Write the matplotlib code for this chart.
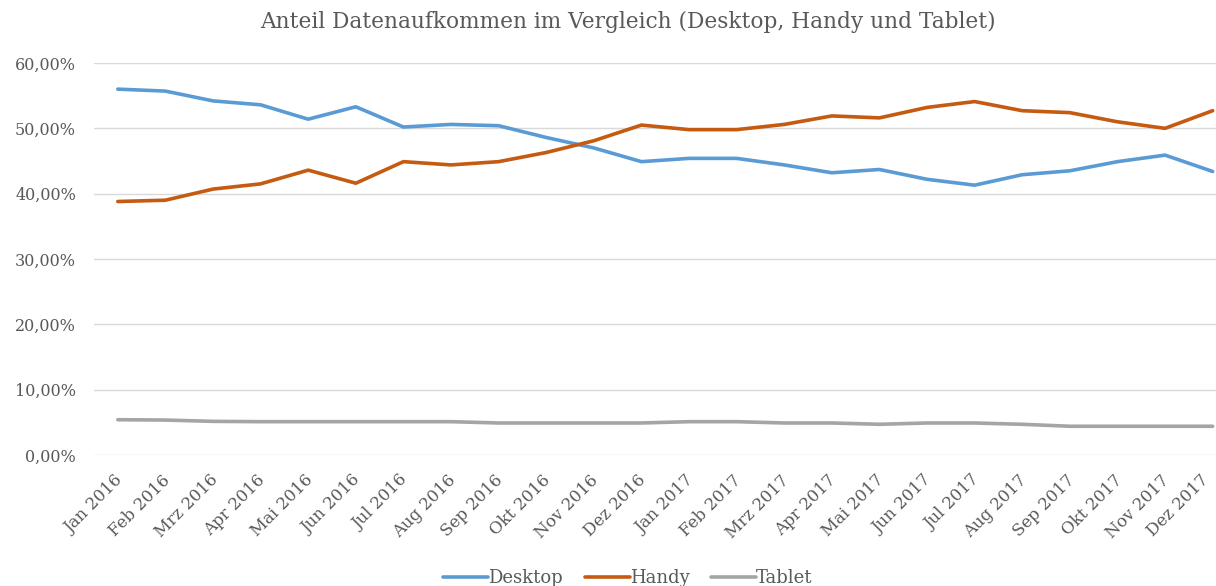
import matplotlib
matplotlib.use("Agg")
import matplotlib.pyplot as plt
import matplotlib.transforms as mtransforms
from matplotlib.ticker import FuncFormatter

plt.rcParams["font.family"] = ["DejaVu Serif"]

months = ["Jan 2016", "Feb 2016", "Mrz 2016", "Apr 2016", "Mai 2016", "Jun 2016",
          "Jul 2016", "Aug 2016", "Sep 2016", "Okt 2016", "Nov 2016", "Dez 2016",
          "Jan 2017", "Feb 2017", "Mrz 2017", "Apr 2017", "Mai 2017", "Jun 2017",
          "Jul 2017", "Aug 2017", "Sep 2017", "Okt 2017", "Nov 2017", "Dez 2017"]

desktop = [56.0, 55.7, 54.2, 53.6, 51.4, 53.3, 50.2, 50.6, 50.4, 48.6, 47.0, 44.9,
           45.4, 45.4, 44.4, 43.2, 43.7, 42.2, 41.3, 42.9, 43.5, 44.9, 45.9, 43.4]
handy = [38.8, 39.0, 40.7, 41.5, 43.6, 41.6, 44.9, 44.4, 44.9, 46.3, 48.1, 50.5,
         49.8, 49.8, 50.6, 51.9, 51.6, 53.2, 54.1, 52.7, 52.4, 51.0, 50.0, 52.7]
tablet = [5.4, 5.35, 5.15, 5.1, 5.1, 5.1, 5.1, 5.1, 4.9, 4.9, 4.9, 4.9,
          5.1, 5.1, 4.9, 4.9, 4.7, 4.9, 4.9, 4.7, 4.4, 4.4, 4.4, 4.4]

text_col = "#595959"

fig = plt.figure(figsize=(12.16, 5.86), dpi=100)
ax = fig.add_axes([94 / 1216, 1 - 455 / 586, (1216 - 94) / 1216, (455 - 63) / 586])

x = list(range(len(months)))
ax.plot(x, desktop, color="#5B9BD5", lw=2.6, label="Desktop", solid_capstyle="round")
ax.plot(x, handy, color="#C55A11", lw=2.6, label="Handy", solid_capstyle="round")
ax.plot(x, tablet, color="#A5A5A5", lw=2.6, label="Tablet", solid_capstyle="round")

ax.set_ylim(0, 60)
ax.set_xlim(-0.5, 23.07)
ax.set_yticks(range(0, 61, 10))
ax.yaxis.set_major_formatter(FuncFormatter(lambda v, p: f"{v:.2f}%".replace(".", ",")))
ax.set_xticks(x)
ax.set_xticklabels(months, rotation=45, ha="right", rotation_mode="anchor")
ax.tick_params(axis="both", length=0, colors=text_col, labelsize=11.5)
ax.tick_params(axis="x", pad=12, labelsize=12)
ax.tick_params(axis="y", pad=13)

# nudge labels a little left, the last one a bit more so it stays inside the picture
labels = ax.get_xticklabels()
for i, lab in enumerate(labels):
    dx = -12 if i == len(labels) - 1 else -4
    shift = mtransforms.ScaledTranslation(dx / 100, 0, fig.dpi_scale_trans)
    lab.set_transform(lab.get_transform() + shift)

ax.grid(axis="y", color="#D9D9D9", lw=1)
ax.set_axisbelow(True)
for s in ax.spines.values():
    s.set_visible(False)

fig.text(628 / 1216, 1 - 22 / 586, "Anteil Datenaufkommen im Vergleich (Desktop, Handy und Tablet)",
         ha="center", va="center", fontsize=15.6, color=text_col)

fig.legend(loc="center", bbox_to_anchor=(628 / 1216, 1 - 578 / 586), ncol=3, frameon=False,
           fontsize=13, handlelength=2.5, handletextpad=0.0, columnspacing=1.2,
           labelcolor=text_col)

fig.savefig("out.png", dpi=100)
